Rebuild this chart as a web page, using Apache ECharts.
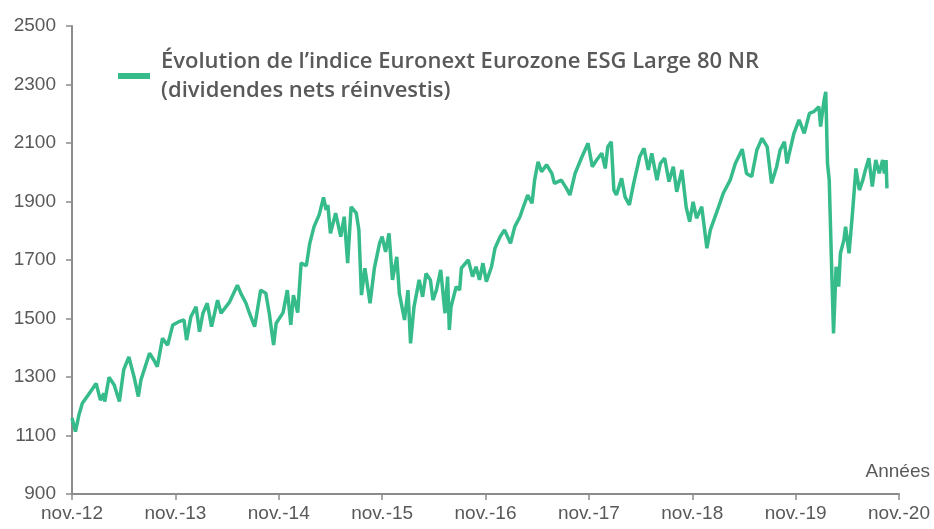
<!DOCTYPE html>
<html>
<head>
<meta charset="utf-8">
<script src="https://cdn.jsdelivr.net/npm/echarts@6/dist/echarts.min.js"></script>
<style>
html,body{margin:0;padding:0;background:#fff;}
#chart{width:934px;height:529px;}
</style>
</head>
<body>
<div id="chart"></div>
<script>
// mois écoulés depuis nov. 2012 (position sur l'axe des x)
var months = [0,0.4,0.8,1.2,2.0,2.8,3.3,3.7,3.8,4.3,4.9,5.5,6.0,6.6,7.2,7.7,8.0,9.0,9.5,9.9,10.5,11.1,11.7,12.4,13.0,13.3,13.8,14.4,14.8,15.2,15.7,16.2,16.9,17.3,18.3,19.2,19.6,20.2,20.6,21.2,21.9,22.5,22.9,23.4,23.7,24.5,25.0,25.4,25.7,26.2,26.6,27.2,27.6,28.1,28.7,29.2,29.5,29.7,30.0,30.6,31.2,31.6,32.0,32.4,33.0,33.3,33.6,34.0,34.6,35.1,35.7,36.0,36.4,36.8,37.2,37.7,38.0,38.6,39.0,39.3,39.7,40.3,40.7,41.1,41.6,41.9,42.3,42.8,43.3,43.6,43.8,44.0,44.6,45.0,45.2,46.0,46.5,46.9,47.3,47.7,48.1,48.7,49.1,49.7,50.2,50.9,51.4,52.0,52.4,52.9,53.4,53.7,54.1,54.5,55.1,55.7,56.0,56.8,57.4,57.8,58.4,59.2,59.9,60.4,60.9,61.5,61.9,62.2,62.6,62.9,63.2,63.8,64.2,64.7,65.2,65.9,66.4,66.9,67.3,67.9,68.3,68.8,69.3,69.8,70.2,70.8,71.3,71.7,72.1,72.5,73.1,73.7,74.1,74.8,75.6,76.4,77.0,77.8,78.3,78.9,79.5,80.1,80.7,81.2,81.8,82.2,82.7,83.0,83.8,84.4,85.0,85.6,86.1,86.7,86.9,87.3,87.5,87.7,87.9,88.2,88.4,88.7,89.0,89.2,89.6,89.8,90.2,90.6,91.0,91.4,91.8,92.1,92.5,92.9,93.3,93.7,94.1,94.3,94.5,94.6];
// valeur de l'indice
var values = [1160,1113,1170,1210,1244,1278,1221,1244,1216,1299,1273,1216,1324,1369,1301,1233,1290,1381,1358,1335,1432,1409,1478,1489,1495,1426,1506,1540,1455,1518,1552,1472,1563,1518,1557,1614,1586,1552,1518,1472,1597,1586,1518,1409,1484,1520,1597,1478,1580,1520,1690,1680,1757,1814,1855,1914,1871,1888,1791,1860,1780,1848,1689,1882,1860,1803,1580,1672,1552,1672,1757,1780,1728,1791,1632,1711,1586,1495,1597,1415,1540,1632,1574,1654,1632,1563,1597,1666,1518,1643,1461,1540,1609,1597,1672,1700,1643,1677,1632,1689,1626,1677,1740,1780,1803,1757,1814,1848,1882,1922,1894,1973,2036,2002,2025,1996,1962,1973,1945,1922,1996,2053,2099,2019,2042,2065,2013,2087,2104,1939,1922,1979,1916,1888,1962,2053,2082,2008,2065,1973,2030,2048,1968,2019,1933,2008,1880,1831,1899,1843,1882,1740,1803,1860,1928,1973,2030,2079,1996,1985,2076,2116,2087,1962,2019,2076,2104,2030,2133,2179,2133,2201,2207,2224,2156,2247,2275,2030,1973,1654,1449,1677,1609,1723,1768,1814,1723,1860,2013,1939,1973,2008,2048,1951,2042,1996,2042,1996,2042,1945];
var tickLabels = ['nov.-12','nov.-13','nov.-14','nov.-15','nov.-16','nov.-17','nov.-18','nov.-19','nov.-20'];
var seriesName = 'Évolution de l\u2019indice Euronext Eurozone ESG Large 80 NR\n(dividendes nets réinvestis)';

var data = [];
for (var i = 0; i < months.length; i++) {
  data.push([months[i], values[i]]);
}

var axisFont = '"Liberation Sans", sans-serif';
var myChart = echarts.init(document.getElementById('chart'));
var option = {
  animation: false,
  backgroundColor: '#fff',
  grid: { left: 72, right: 35, top: 26, bottom: 35, containLabel: false },
  legend: {
    left: 113, top: 42,
    icon: 'rect', itemWidth: 32, itemHeight: 6,
    data: [seriesName],
    textStyle: {
      color: '#595959', fontSize: 22, fontWeight: 600,
      fontFamily: '"Open Sans", "Noto Sans", sans-serif', lineHeight: 29,
      padding: [0, 0, 0, 6]
    }
  },
  xAxis: {
    type: 'value', min: 0, max: 96, interval: 12,
    axisLine: { show: true, onZero: false, lineStyle: { color: '#8c8c8c', width: 2 } },
    axisTick: { show: true, length: 6, lineStyle: { color: '#8c8c8c', width: 1.5 } },
    splitLine: { show: false },
    axisLabel: {
      color: '#595959', fontSize: 19, fontFamily: axisFont, margin: 10,
      formatter: function (v) { return tickLabels[Math.round(v / 12)]; }
    }
  },
  yAxis: {
    type: 'value', min: 900, max: 2500, interval: 200,
    axisLine: { show: true, lineStyle: { color: '#8c8c8c', width: 2 } },
    axisTick: { show: true, length: 6, lineStyle: { color: '#8c8c8c', width: 1.5 } },
    splitLine: { show: false },
    axisLabel: {
      color: '#595959', fontSize: 19, fontFamily: axisFont, margin: 16,
      formatter: function (v) { return String(v); }
    }
  },
  graphic: [{
    type: 'text', right: 4, top: 462,
    style: { text: 'Années', fill: '#595959', fontSize: 19, fontFamily: axisFont }
  }],
  series: [{
    name: seriesName,
    type: 'line',
    data: data,
    showSymbol: false,
    lineStyle: { color: '#36BB8B', width: 3.5 },
    itemStyle: { color: '#36BB8B' }
  }]
};
myChart.setOption(option);
</script>
</body>
</html>
